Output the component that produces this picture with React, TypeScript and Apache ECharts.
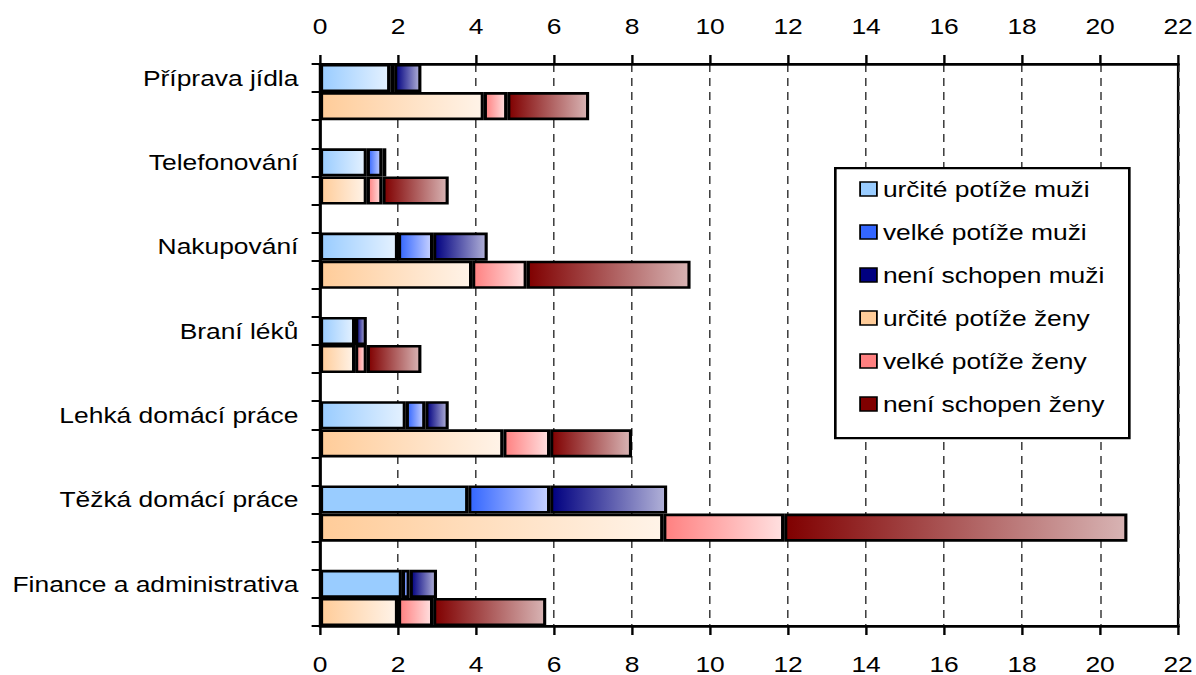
import React, { useEffect, useRef } from "react";
import * as echarts from "echarts";

const categories = [
  "Příprava jídla",
  "Telefonování",
  "Nakupování",
  "Braní léků",
  "Lehká domácí práce",
  "Těžká domácí práce",
  "Finance a administrativa",
];
const menCertain = [1.8, 1.2, 2.0, 0.9, 2.2, 3.8, 2.1];
const menSevere = [0.1, 0.4, 0.9, 0, 0.5, 2.1, 0.2];
const menUnable = [0.7, 0.1, 1.4, 0.3, 0.6, 3.0, 0.7];
const womenCertain = [4.2, 1.2, 3.9, 0.9, 4.7, 8.8, 2.0];
const womenSevere = [0.6, 0.4, 1.4, 0.3, 1.2, 3.1, 0.9];
const womenUnable = [2.1, 1.7, 4.2, 1.4, 2.1, 8.8, 2.9];
const xTicks = [0, 2, 4, 6, 8, 10, 12, 14, 16, 18, 20, 22];

// categories where the first men's segment is a plain (non-gradient) fill
const solidMenCertain = ["Těžká domácí práce", "Finance a administrativa"];

const STRETCH = 1.2;
const FULL_W = 1196;
const FULL_H = 675;
const W = FULL_W / STRETCH;
const FONT = "'Liberation Sans', Arial, sans-serif";

const grad = (a: string, b: string) =>
  new echarts.graphic.LinearGradient(0, 0, 1, 0, [
    { offset: 0, color: a },
    { offset: 1, color: b },
  ]);

export default function App() {
  const ref = useRef<HTMLDivElement>(null);

  useEffect(() => {
    if (!ref.current) return;
    const chart = echarts.init(ref.current, undefined, { renderer: "svg" });

    const rows: { key: string; idx: number; kind: "m" | "w" | "g" }[] = [];
    categories.forEach((_, i) => {
      rows.push({ key: `${i}|m`, idx: i, kind: "m" });
      rows.push({ key: `${i}|w`, idx: i, kind: "w" });
      if (i < categories.length - 1) rows.push({ key: `${i}|g`, idx: i, kind: "g" });
    });

    const seriesDefs = [
      { name: "určité potíže muži", vals: menCertain, kind: "m", c1: "#99CCFF", c2: "#E4F1FF" },
      { name: "velké potíže muži", vals: menSevere, kind: "m", c1: "#3366FF", c2: "#C8D2FF" },
      { name: "není schopen muži", vals: menUnable, kind: "m", c1: "#000080", c2: "#B2B2D8" },
      { name: "určité potíže ženy", vals: womenCertain, kind: "w", c1: "#FFCC99", c2: "#FFF3E8" },
      { name: "velké potíže ženy", vals: womenSevere, kind: "w", c1: "#FF8080", c2: "#FFE0E0" },
      { name: "není schopen ženy", vals: womenUnable, kind: "w", c1: "#800000", c2: "#D8B4B4" },
    ];

    const series = seriesDefs.map((s, si) => ({
      type: "bar",
      name: s.name,
      stack: "all",
      barCategoryGap: "0%",
      xAxisIndex: 1,
      itemStyle: {
        color: grad(s.c1, s.c2),
        borderColor: "#000",
        borderWidth: 2.6,
      },
      data: rows.map((r) => {
        if (r.kind !== s.kind) return "-";
        const v = s.vals[r.idx];
        if (si === 0 && solidMenCertain.includes(categories[r.idx])) {
          return { value: v, itemStyle: { color: s.c1 } };
        }
        return v;
      }),
    }));

    const xAxisBase = {
      type: "value",
      min: 0,
      max: 22,
      interval: 2,
      axisLine: { show: true, lineStyle: { color: "#000", width: 2.6 } },
      axisTick: { show: true, length: 9, lineStyle: { color: "#000", width: 2 } },
      axisLabel: {
        color: "#000",
        fontSize: 22,
        fontFamily: FONT,
        margin: 27,
        formatter: (v: number) => (xTicks.includes(v) ? String(v) : ""),
      },
    };

    chart.setOption({
      animation: false,
      backgroundColor: "#fff",
      grid: {
        left: 266.67,
        right: W - 1180 / STRETCH,
        top: 64,
        bottom: FULL_H - 627,
        show: true,
        borderColor: "#000",
        borderWidth: 2,
      },
      xAxis: [
        {
          ...xAxisBase,
          position: "top",
          splitLine: {
            show: true,
            lineStyle: { color: "#333", width: 1.2, type: [8, 6] },
          },
        },
        {
          ...xAxisBase,
          position: "bottom",
          splitLine: { show: false },
        },
      ],
      yAxis: {
        type: "category",
        inverse: true,
        data: rows.map((r) => r.key),
        boundaryGap: true,
        axisLine: { show: true, lineStyle: { color: "#000", width: 2.4 } },
        axisTick: { show: true, interval: 0, length: 7, lineStyle: { color: "#000", width: 2 } },
        axisLabel: {
          interval: 0,
          color: "#000",
          fontSize: 22,
          fontFamily: FONT,
          margin: 18,
          formatter: (v: string) => {
            const [i, k] = v.split("|");
            return k === "m" ? categories[Number(i)] : "";
          },
        },
        splitLine: { show: false },
      },
      legend: {
        orient: "vertical",
        left: 716,
        top: 178,
        padding: 0,
        itemGap: 21,
        itemWidth: 14,
        itemHeight: 14,
        z: 20,
        selectedMode: false,
        textStyle: { color: "#000", fontSize: 22, fontFamily: FONT },
        data: seriesDefs.map((s) => ({
          name: s.name,
          icon: "rect",
          itemStyle: { color: s.c1, borderColor: "#000", borderWidth: 1.5 },
        })),
      },
      graphic: [
        {
          type: "rect",
          left: 695,
          top: 167,
          z: 3,
          shape: { width: 245, height: 270 },
          style: { fill: "#fff", stroke: "#000", lineWidth: 2.2 },
        },
      ],
      series,
    });

    return () => chart.dispose();
  }, []);

  return (
    <div
      style={{
        position: "fixed",
        left: 0,
        top: 0,
        width: FULL_W,
        height: FULL_H,
        overflow: "hidden",
        background: "#fff",
      }}
    >
      <div
        ref={ref}
        style={{
          width: W,
          height: FULL_H,
          transform: `scaleX(${STRETCH})`,
          transformOrigin: "0 0",
        }}
      />
    </div>
  );
}
